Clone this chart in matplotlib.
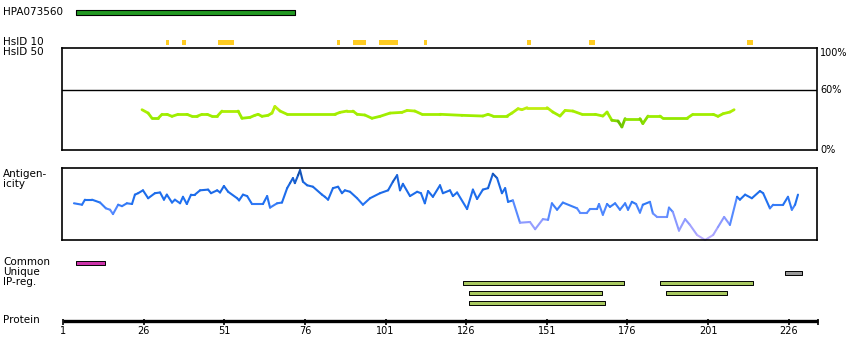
import numpy as np
import matplotlib
matplotlib.use('Agg')
import matplotlib.pyplot as plt
from matplotlib.collections import LineCollection
from matplotlib.colors import LinearSegmentedColormap, Normalize
from matplotlib.transforms import blended_transform_factory

# antibody / protein tracks (residue numbers)
antibody = 'HPA073560'
antibody_span = (5, 73)
hsid10 = [(33, 33), (38, 38), (49, 53), (86, 86), (91, 94), (99, 104),
          (113, 113), (145, 145), (164, 165), (213, 214)]
common = [(5, 14)]
unique = [(225, 230)]
ip_reg = [[(125, 175), (186, 215)],
          [(127, 168), (188, 207)],
          [(127, 169)]]
protein_len = 235
tick_res = [1, 26, 51, 76, 101, 126, 151, 176, 201, 226]

# sequence identity (%) along the protein
ident_res = [25.5, 27.4, 28.6, 30.5, 31.7, 33.2, 34.8, 36.7, 39.4, 41.0,
             42.5, 44.1, 45.7, 47.2, 48.8, 50.3, 55.3, 56.5, 59.0, 60.5,
             61.5, 62.7, 64.6, 65.8, 66.7, 68.3, 70.5, 85.3, 86.9, 89.1,
             90.9, 92.2, 94.6, 96.8, 99.3, 102.4, 106.1, 107.7, 110.1, 112.3,
             117.9, 124.7, 131.2, 132.8, 134.3, 138.7, 140.2, 142.1, 143.3, 144.9,
             151.1, 152.9, 155.1, 156.7, 159.1, 161.9, 166.0, 168.4, 169.7, 171.2,
             173.1, 174.3, 175.3, 179.9, 180.8, 182.4, 186.1, 187.0, 194.5, 196.3,
             202.6, 204.1, 205.7, 207.8, 209.1]
ident_pct = [39.5, 36.2, 31.1, 31.1, 35.0, 35.0, 33.0, 35.0, 35.0, 33.0,
             33.0, 35.0, 35.0, 33.0, 33.0, 38.2, 38.2, 31.1, 32.0, 34.0,
             35.0, 33.0, 34.0, 36.2, 42.7, 38.2, 35.0, 35.0, 36.9, 38.2,
             38.2, 35.0, 34.3, 31.1, 33.0, 36.2, 36.9, 38.8, 38.2, 35.0,
             35.0, 34.0, 33.3, 35.0, 33.3, 33.3, 36.2, 40.5, 39.5, 41.5,
             41.5, 37.2, 33.3, 38.8, 38.2, 35.0, 35.0, 33.3, 37.2, 29.1,
             28.4, 22.6, 30.8, 30.8, 25.9, 33.3, 33.3, 31.1, 31.1, 35.0,
             35.0, 33.0, 35.6, 37.2, 39.5]

# antigenicity score (0-1)
antig_res = [4.4, 6.9, 7.8, 10.0, 12.5, 14.3, 15.6, 16.5, 18.1, 19.3,
             20.8, 22.4, 23.3, 24.3, 25.8, 27.4, 29.5, 31.1, 32.3, 33.2,
             34.8, 35.7, 37.3, 38.2, 39.4, 40.7, 41.9, 43.5, 46.0, 46.9,
             48.8, 49.7, 50.9, 52.2, 55.0, 55.6, 56.8, 58.1, 59.6, 63.0,
             64.3, 65.2, 67.4, 68.9, 70.5, 71.4, 72.3, 72.9, 73.9, 74.5,
             75.4, 76.7, 78.5, 81.3, 82.2, 83.2, 84.7, 86.3, 87.5, 88.4,
             90.0, 92.2, 94.0, 96.2, 99.3, 101.8, 103.3, 104.6, 105.5, 106.4,
             108.6, 110.8, 112.0, 113.2, 114.2, 115.7, 117.9, 118.8, 121.0, 121.9,
             123.2, 126.3, 128.1, 129.4, 131.2, 132.8, 134.3, 135.6, 137.1, 138.1,
             139.0, 140.5, 142.7, 145.8, 147.4, 149.8, 151.4, 152.6, 154.2, 156.0,
             160.4, 161.3, 163.5, 164.4, 166.6, 167.2, 168.4, 169.7, 170.6, 172.2,
             173.7, 175.3, 176.2, 177.4, 178.7, 179.9, 180.8, 183.0, 183.9, 185.2,
             188.3, 188.9, 190.1, 192.0, 193.9, 195.4, 197.6, 200.1, 202.6, 204.1,
             206.0, 207.8, 210.0, 210.9, 212.5, 214.6, 217.1, 218.1, 220.2, 221.2,
             224.3, 225.8, 227.0, 228.0, 228.9]
antig_val = [0.51, 0.49, 0.56, 0.56, 0.52, 0.44, 0.42, 0.36, 0.49, 0.47,
             0.51, 0.50, 0.63, 0.65, 0.69, 0.58, 0.65, 0.66, 0.56, 0.63,
             0.52, 0.56, 0.51, 0.60, 0.50, 0.63, 0.63, 0.69, 0.70, 0.65,
             0.69, 0.66, 0.75, 0.67, 0.58, 0.55, 0.63, 0.61, 0.50, 0.50,
             0.61, 0.45, 0.51, 0.52, 0.72, 0.79, 0.86, 0.79, 0.90, 0.97,
             0.81, 0.76, 0.74, 0.63, 0.60, 0.56, 0.72, 0.74, 0.65, 0.69,
             0.67, 0.58, 0.49, 0.58, 0.65, 0.69, 0.81, 0.90, 0.69, 0.78,
             0.61, 0.67, 0.65, 0.51, 0.68, 0.60, 0.76, 0.65, 0.69, 0.61,
             0.66, 0.43, 0.70, 0.57, 0.70, 0.72, 0.92, 0.86, 0.65, 0.72,
             0.53, 0.55, 0.24, 0.25, 0.15, 0.29, 0.28, 0.51, 0.42, 0.52,
             0.44, 0.38, 0.38, 0.43, 0.43, 0.50, 0.35, 0.50, 0.46, 0.51,
             0.42, 0.51, 0.42, 0.53, 0.50, 0.38, 0.49, 0.53, 0.37, 0.32,
             0.32, 0.45, 0.39, 0.13, 0.29, 0.21, 0.07, 0.00, 0.07, 0.18,
             0.32, 0.21, 0.60, 0.56, 0.63, 0.58, 0.68, 0.65, 0.44, 0.49,
             0.49, 0.60, 0.42, 0.49, 0.63]

plt.rcParams['font.family'] = 'DejaVu Sans'
FS = 7.5

W, H = 850, 360
PX = 3.225  # pixels per residue


def r_at(px):
    return 1 + (px - 63) / PX


def colored_line(ax, x, y, cmap, norm, lw=2.2):
    x = np.asarray(x, float)
    y = np.asarray(y, float)
    pts = np.column_stack([x, y]).reshape(-1, 1, 2)
    segs = np.concatenate([pts[:-1], pts[1:]], axis=1)
    lc = LineCollection(segs, cmap=cmap, norm=norm, linewidths=lw,
                        capstyle='round', joinstyle='round')
    lc.set_array((y[:-1] + y[1:]) / 2)
    lc.set_clip_on(False)
    ax.add_collection(lc)


fig = plt.figure(figsize=(W / 100, H / 100), dpi=100)

# full-width track axes: x in residues, y in rows
ax = fig.add_axes([0, 0, 1, 1])
ax.set_xlim(r_at(0), r_at(W))
ax.set_ylim(H, 0)
ax.axis('off')

ax.broken_barh([(antibody_span[0], antibody_span[1] - antibody_span[0])], (10, 4.5),
               facecolors='#229922', edgecolors='black', linewidth=0.8)
ax.broken_barh([(s, e - s + 1) for s, e in hsid10], (40, 4.5),
               facecolors='#ffcc22', edgecolors='none')

ax.broken_barh([(s, e - s) for s, e in common], (260.5, 4),
               facecolors='#cc33aa', edgecolors='black', linewidth=0.7)
ax.broken_barh([(s, e - s) for s, e in unique], (270.5, 4),
               facecolors='#999999', edgecolors='black', linewidth=0.7)
for i, row in enumerate(ip_reg):
    ax.broken_barh([(s, e - s) for s, e in row], (280.5 + 10 * i, 4),
                   facecolors='#a8c860', edgecolors='black', linewidth=0.7)

# protein ruler
ax.plot([1, protein_len], [320.5, 320.5], color='black', lw=2.4,
        solid_capstyle='butt')
ax.vlines(tick_res + [protein_len], 319, 325, color='black', lw=1.2)
for r in tick_res:
    ax.text(r, 331.5, str(r), ha='center', va='center', fontsize=7)

labels = [(antibody, 12), ('HsID 10', 42), ('HsID 50', 52), ('Antigen-', 174),
          ('icity', 184), ('Common', 262), ('Unique', 272), ('IP-reg.', 282),
          ('Protein', 320)]
for txt, y in labels:
    fig.text(3 / W, 1 - y / H, txt, ha='left', va='center', fontsize=FS)

# identity panel
ax_id = fig.add_axes([62 / W, 1 - 150 / H, 755 / W, 102 / H])
ax_id.set_xlim(r_at(62), r_at(817))
ax_id.set_ylim(0, 100)
ax_id.set_xticks([])
ax_id.set_yticks([])
for sp in ax_id.spines.values():
    sp.set_linewidth(1.2)
ax_id.axhline(59, color='black', lw=1.0)
id_cmap = LinearSegmentedColormap.from_list(
    'ident', ['#55aa00', '#77cc00', '#99ee00', '#a6ee00', '#c4ee11'])
colored_line(ax_id, ident_res, ident_pct, id_cmap, Normalize(22, 42), lw=2.0)
tr = blended_transform_factory(ax_id.transAxes, ax_id.transData)
ax_id.text(1.004, 100, '100%', transform=tr, ha='left', va='top', fontsize=7)
ax_id.text(1.004, 59, '60%', transform=tr, ha='left', va='center', fontsize=7)
ax_id.text(1.004, 0, '0%', transform=tr, ha='left', va='center', fontsize=7)

# antigenicity panel
ax_ag = fig.add_axes([62 / W, 1 - 240 / H, 755 / W, 72 / H])
ax_ag.set_xlim(r_at(62), r_at(817))
ax_ag.set_ylim(0, 1)
ax_ag.set_xticks([])
ax_ag.set_yticks([])
for sp in ax_ag.spines.values():
    sp.set_linewidth(1.2)
ag_cmap = LinearSegmentedColormap.from_list(
    'antig', [(0.0, '#c0b0ff'), (0.25, '#8c99ff'), (0.42, '#4f88ff'),
              (0.55, '#1f70f0'), (0.8, '#1a66e0'), (1.0, '#0a3f8c')])
colored_line(ax_ag, antig_res, antig_val, ag_cmap, Normalize(0, 1), lw=1.5)

fig.savefig('out.png', dpi=100)
